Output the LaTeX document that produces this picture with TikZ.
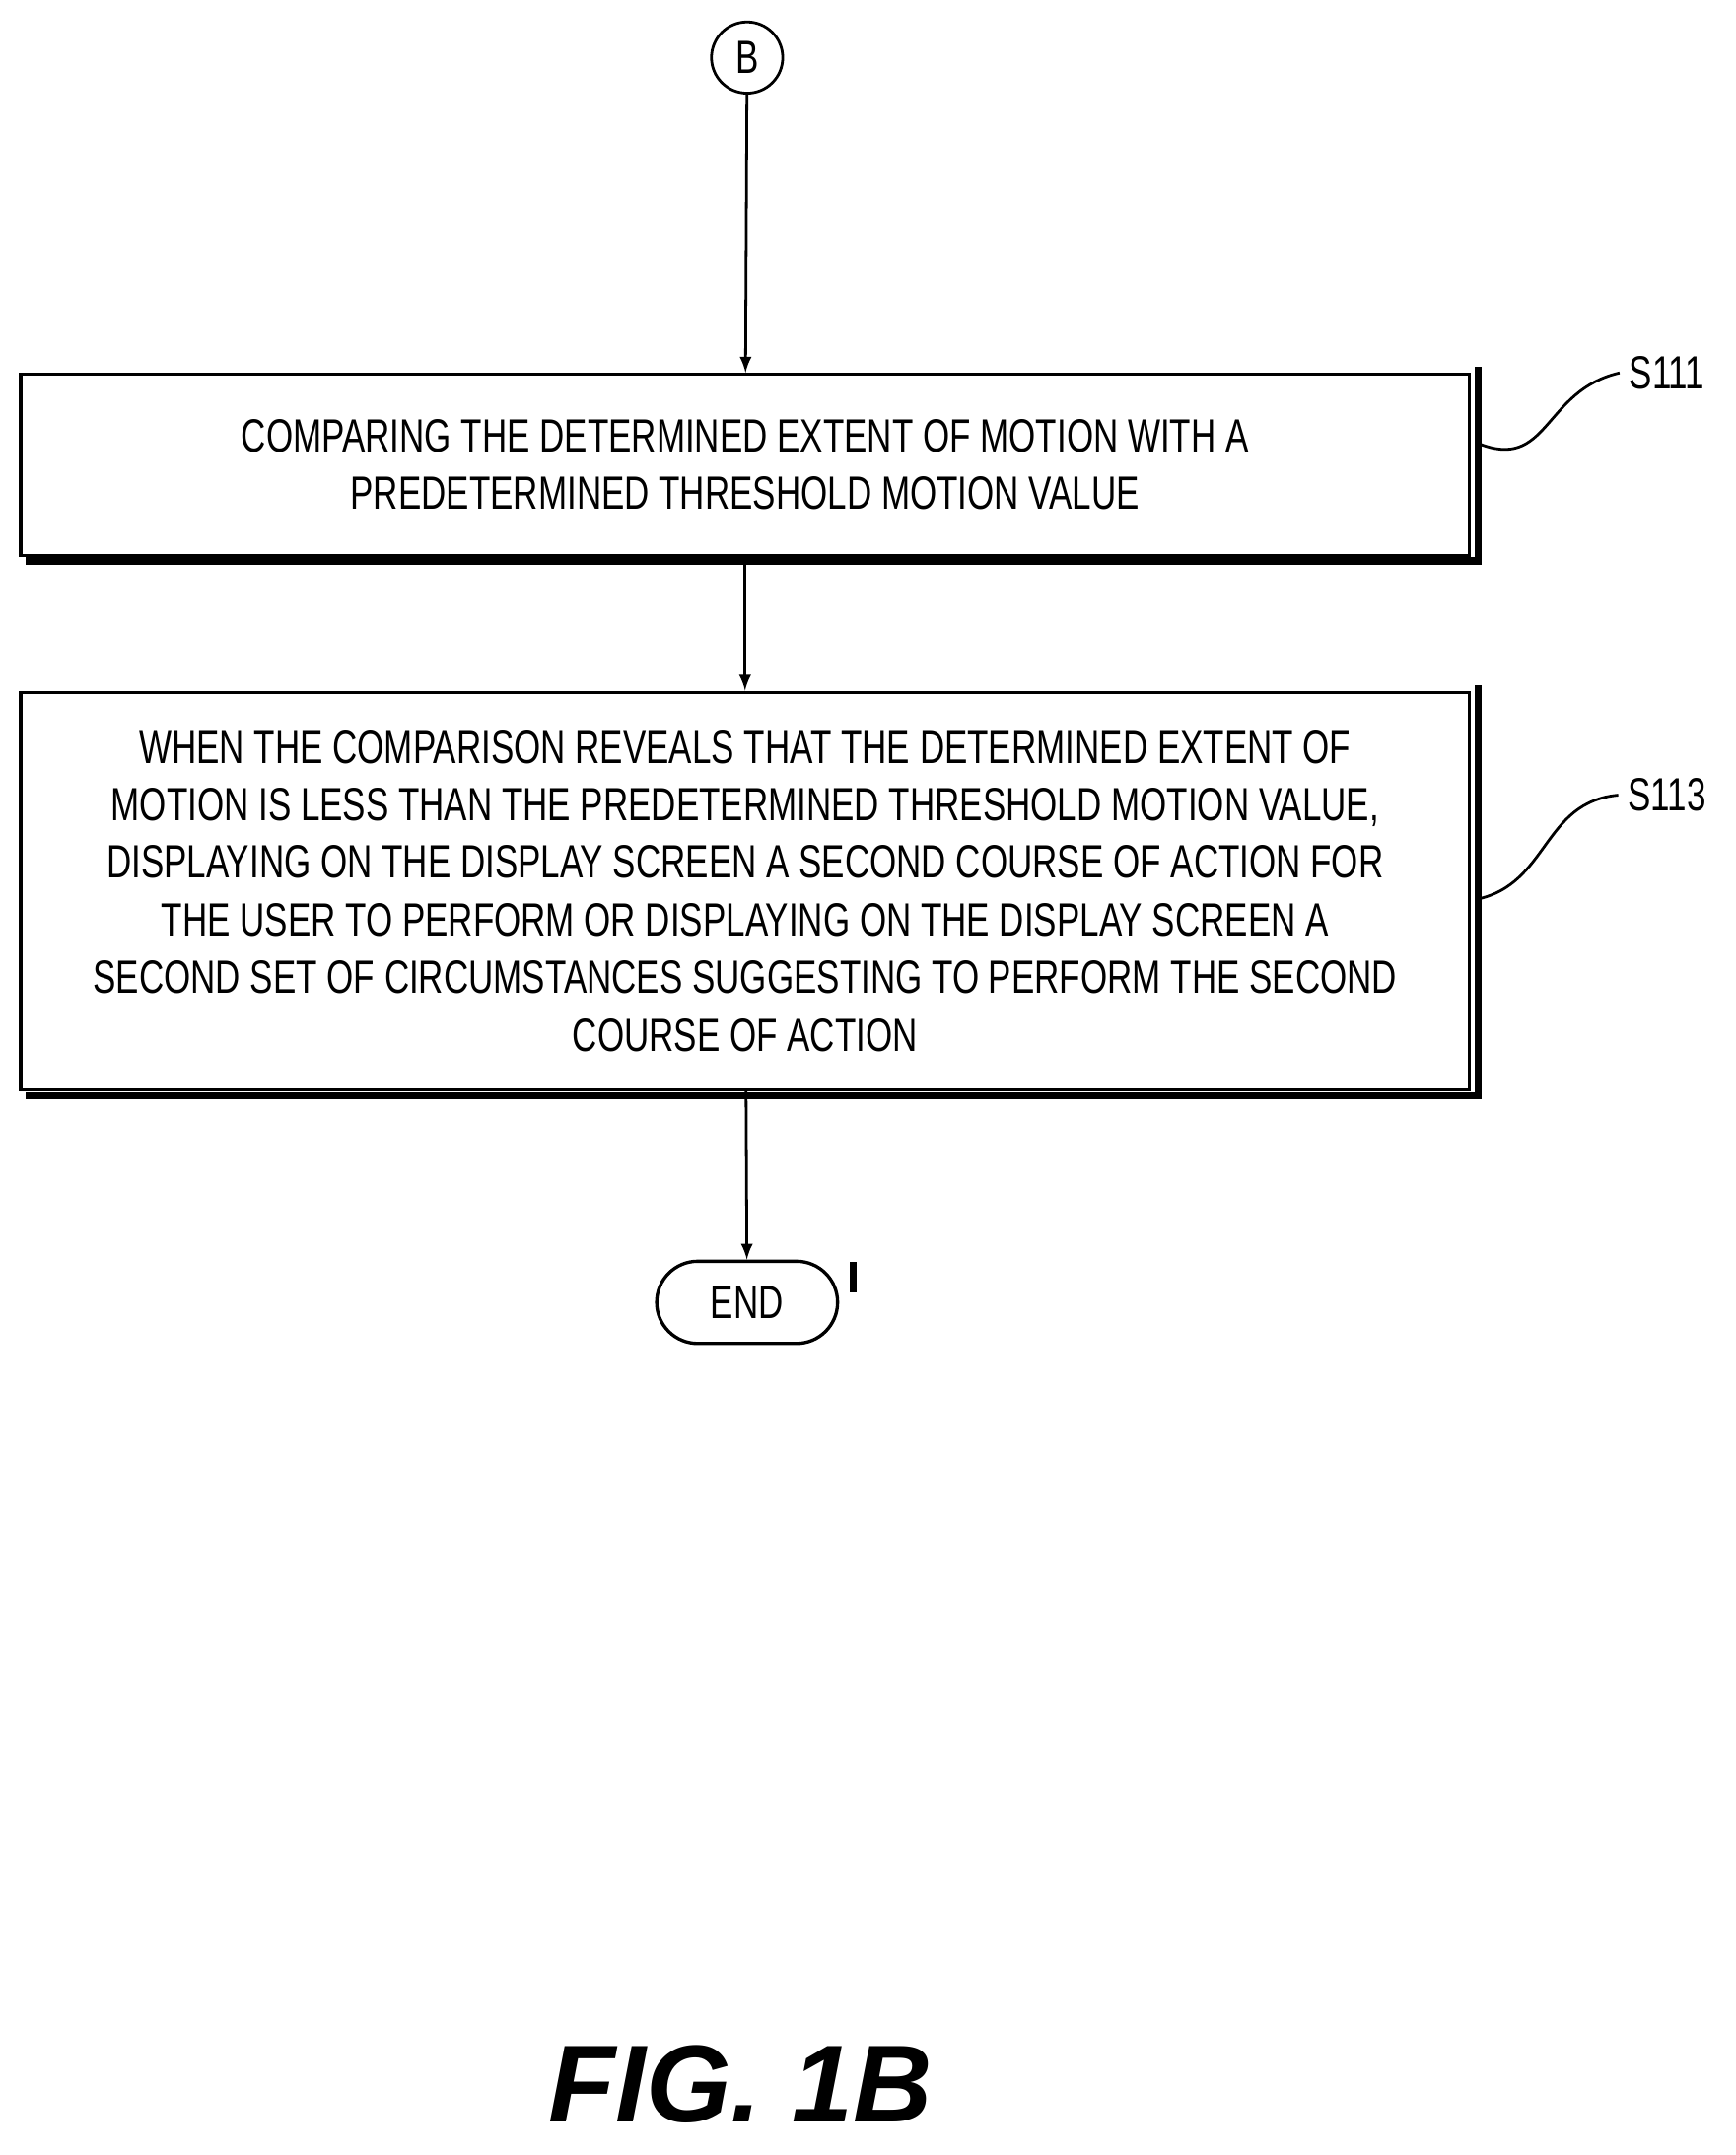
\documentclass[tikz,border=0pt]{standalone}
\usepackage{fontspec}
\setmainfont{Liberation Sans}[FakeStretch=0.74]
\newfontfamily\figfont{Liberation Sans}
\usetikzlibrary{positioning}
\tikzset{
  box/.style={draw, line width=1.2pt, minimum width=528.5pt, align=center, font=\fontsize{17}{21}\selectfont},
  shadowline/.style={line width=2.6pt},
  flow/.style={-latex, line width=1pt},
  lab/.style={font=\fontsize{17}{20}\selectfont}
}
\begin{document}
\begin{tikzpicture}[x=0.5pt, y=-0.5pt]
  \useasboundingbox (0,0) rectangle (1266,1572);
  \node[draw, circle, line width=1pt, minimum size=26pt, inner sep=0pt, font=\fontsize{17}{20}\selectfont] (B) at (545,42) {B};
  \node[box, minimum height=66pt] (s111) at (543.5,339) {COMPARING THE DETERMINED EXTENT OF MOTION WITH A\\PREDETERMINED THRESHOLD MOTION VALUE};
  \draw[shadowline] (s111.north east) ++(2.5pt,2pt) |- ([xshift=2.5pt,yshift=-1.5pt]s111.south west);
  \node[box, minimum height=145pt] (s113) at (543.5,650) {WHEN THE COMPARISON REVEALS THAT THE DETERMINED EXTENT OF\\MOTION IS LESS THAN THE PREDETERMINED THRESHOLD MOTION VALUE,\\DISPLAYING ON THE DISPLAY SCREEN A SECOND COURSE OF ACTION FOR\\THE USER TO PERFORM OR DISPLAYING ON THE DISPLAY SCREEN A\\SECOND SET OF CIRCUMSTANCES SUGGESTING TO PERFORM THE SECOND\\COURSE OF ACTION};
  \draw[shadowline] (s113.north east) ++(2.5pt,2pt) |- ([xshift=2.5pt,yshift=-1.5pt]s113.south west);
  \node[draw, rounded corners=15pt, line width=1.2pt, minimum width=66pt, minimum height=30pt, font=\fontsize{17}{20}\selectfont] (end) at (545,950) {END};
  \draw[line width=2.4pt] ([xshift=5pt,yshift=-1pt]end.north east) -- ([xshift=5pt,yshift=-12pt]end.north east);
  \draw[flow] (B) -- (s111);
  \draw[flow] (s111) -- (s113);
  \draw[flow] (s113) -- (end);
  \node[lab] (l111) at (1216,272) {S111};
  \node[lab] (l113) at (1216,580) {S113};
  \draw[line width=1pt] (s111.east) ++(2pt,8pt) .. controls (1130,345) and (1125,285) .. (l111.west);
  \draw[line width=1pt] (s113.east) ++(2pt,-3pt) .. controls (1130,645) and (1125,585) .. (l113.west);
  \node[font=\figfont\fontsize{40}{44}\selectfont\bfseries\itshape] (fig) at (540,1520) {FIG. 1B};
\end{tikzpicture}
\end{document}
